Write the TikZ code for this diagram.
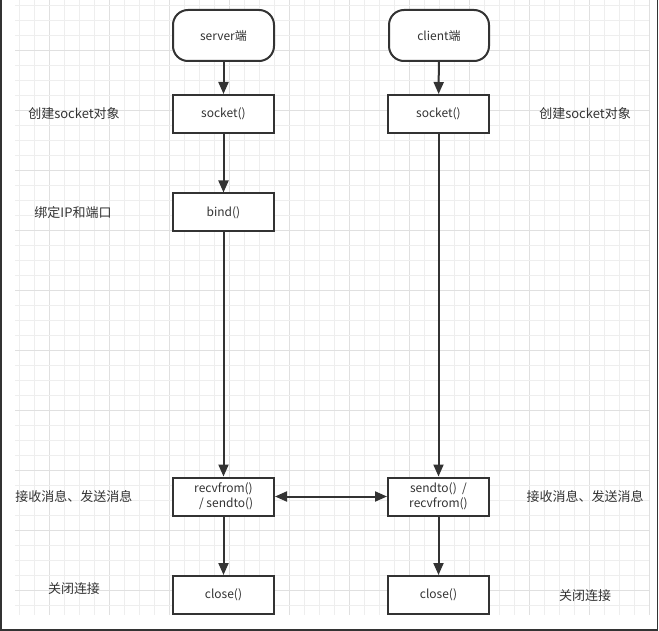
\documentclass[tikz,border=0pt]{standalone}
\usepackage{fontspec}
\setmainfont{Noto Sans CJK SC}
\usetikzlibrary{arrows.meta}

\definecolor{lineclr}{HTML}{333333}
\definecolor{gridminor}{HTML}{EEEEEE}
\definecolor{gridmajor}{HTML}{E0E0E0}

\begin{document}
\begin{tikzpicture}[x=1pt, y=-1pt,
  every node/.style={font=\fontsize{12}{15}\selectfont, text=lineclr},
  callbox/.style={draw=lineclr, line width=2pt, fill=white, minimum width=101pt, minimum height=38pt, inner sep=0pt, align=center},
  endbox/.style={callbox, minimum height=51pt, rounded corners=15pt},
  note/.style={font=\fontsize{13}{15}\selectfont},
  flow/.style={draw=lineclr, line width=2pt, -{Triangle[length=12pt,width=10pt]}},
  twoway/.style={flow, {Triangle[length=12pt,width=10pt]}-{Triangle[length=12pt,width=10pt]}}]
  \useasboundingbox (0,0) rectangle (659,631);
  \fill[white] (0,0) rectangle (659,631);
  % grid
  \foreach \i in {0,...,42}{
    \pgfmathsetmacro{\gx}{19.3+15*\i}
    \pgfmathtruncatemacro{\major}{mod(\i+2,4)==0}
    \ifnum\major=1 \def\gc{gridmajor}\else \def\gc{gridminor}\fi
    \draw[\gc, line width=0.8pt] (\gx,0) -- (\gx,615);
  }
  \foreach \j in {0,...,40}{
    \pgfmathsetmacro{\gy}{5+15*\j}
    \pgfmathtruncatemacro{\major}{mod(\j+1,4)==0}
    \ifnum\major=1 \def\gc{gridmajor}\else \def\gc{gridminor}\fi
    \draw[\gc, line width=0.8pt] (15,\gy) -- (649,\gy);
  }
  % window frame
  \draw[lineclr, line width=1.5pt] (1,0) -- (1,630) -- (657.5,630) -- (657.5,0);

  % server side
  \node[endbox] (srvend) at (223.5,35.5) {server端};
  \node[callbox] (srvsock) at (223.5,114) {socket()};
  \node[callbox] (srvbind) at (223.5,212.5) {bind()};
  \node[callbox] (srvrecv) at (223.5,496.5) {recvfrom()\\\ \ / sendto()};
  \node[callbox] (srvclose) at (223.5,595) {close()};

  % client side
  \node[endbox, minimum width=100pt] (cliend) at (439,35.5) {client端};
  \node[callbox] (clisock) at (438.5,114) {socket()};
  \node[callbox] (clisend) at (438.5,496.5) {sendto()\ \ /\\recvfrom()};
  \node[callbox] (cliclose) at (438.5,595) {close()};

  % notes
  \foreach \n/\x/\y/\t in {n1/74/114/创建socket对象, n2/73/213/绑定IP和端口, n3/74/497/接收消息、发送消息, n4/74/589/关闭连接,
                           n5/585/114/创建socket对象, n6/585/497/接收消息、发送消息, n7/585/596/关闭连接}{
    \node[note] (\n) at (\x,\y) {\t};
  }

  \draw[flow] (srvend) -- (srvsock);
  \draw[flow] (srvsock) -- (srvbind);
  \draw[flow] (srvbind) -- (srvrecv);
  \draw[flow] (srvrecv) -- (srvclose);
  \draw[flow] (cliend) -- (clisock);
  \draw[flow] (clisock) -- (clisend);
  \draw[flow] (clisend) -- (cliclose);
  \draw[twoway] (srvrecv) -- (clisend);
\end{tikzpicture}
\end{document}
